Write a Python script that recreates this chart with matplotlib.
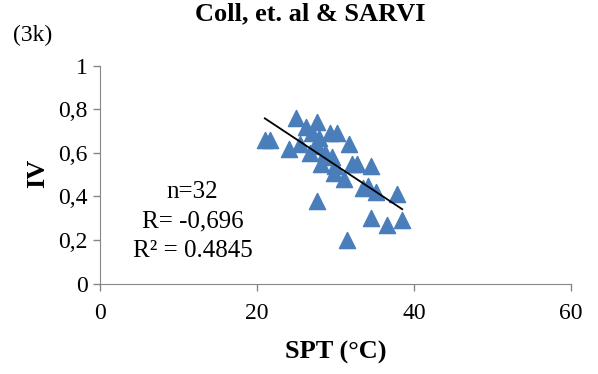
import numpy as np
import matplotlib.pyplot as plt

plt.rcParams['font.family'] = ['Liberation Serif', 'DejaVu Serif']

# data
spt = [21.0, 21.6, 24.1, 25.0, 25.5, 27.0, 27.7, 27.9, 27.7, 29.3,
       30.2, 31.7, 29.6, 28.2, 30.0, 32.7, 34.5, 29.8, 31.1, 34.1,
       35.1, 37.9, 27.7, 34.5, 36.5, 38.5, 31.5, 26.7, 28.7, 33.5,
       32.1, 26.2]
iv = [0.66, 0.66, 0.62, 0.76, 0.64, 0.69, 0.74, 0.67, 0.63, 0.69,
      0.69, 0.64, 0.58, 0.55, 0.54, 0.55, 0.54, 0.51, 0.48, 0.45,
      0.42, 0.41, 0.38, 0.30, 0.27, 0.29, 0.20, 0.60, 0.60, 0.44,
      0.55, 0.72]
xticks = [0, 20, 40, 60]
yticks = [0, 0.2, 0.4, 0.6, 0.8, 1]
ylabels = ['0', '0,2', '0,4', '0,6', '0,8', '1']
stats = ['n=32', 'R= -0,696', 'R² = 0.4845']

fig = plt.figure(figsize=(5.98, 3.74), dpi=100)
ax = fig.add_axes([0.1672, 0.2414, 0.7876, 0.583])

ax.scatter(spt, iv, marker='^', s=135, color='#4a7ebb', zorder=3)

# linear trend line
a, b = np.polyfit(spt, iv, 1)
xs = np.array([min(spt), max(spt)])
ax.plot(xs, a * xs + b, color='black', lw=1.3, zorder=4)

ax.set_xlim(0, 60)
ax.set_ylim(0, 1)
ax.set_xticks(xticks)
ax.set_yticks(yticks)
ax.set_yticklabels(ylabels)
ax.tick_params(labelsize=17, color='#868686', length=5, width=1)
ax.tick_params(axis='x', pad=9)
ax.tick_params(axis='y', pad=4)
for s in ['top', 'right']:
    ax.spines[s].set_visible(False)
for s in ['left', 'bottom']:
    ax.spines[s].set_color('#868686')

ax.set_xlabel('SPT (°C)', fontsize=19, fontweight='bold', labelpad=12)
ax.set_ylabel('IV', fontsize=19, fontweight='bold', va='center')
ax.yaxis.set_label_coords(-0.132, 0.508)

for i, t in enumerate(stats):
    ax.text(11.8, 0.42 - i * 0.135, t, fontsize=18, ha='center', va='center')

fig.text(0.518, 0.962, 'Coll, et. al & SARVI', fontsize=19, fontweight='bold',
         ha='center', va='center')
fig.text(0.022, 0.906, '(3k)', fontsize=17, ha='left', va='center')

fig.savefig('out.png', dpi=100)
